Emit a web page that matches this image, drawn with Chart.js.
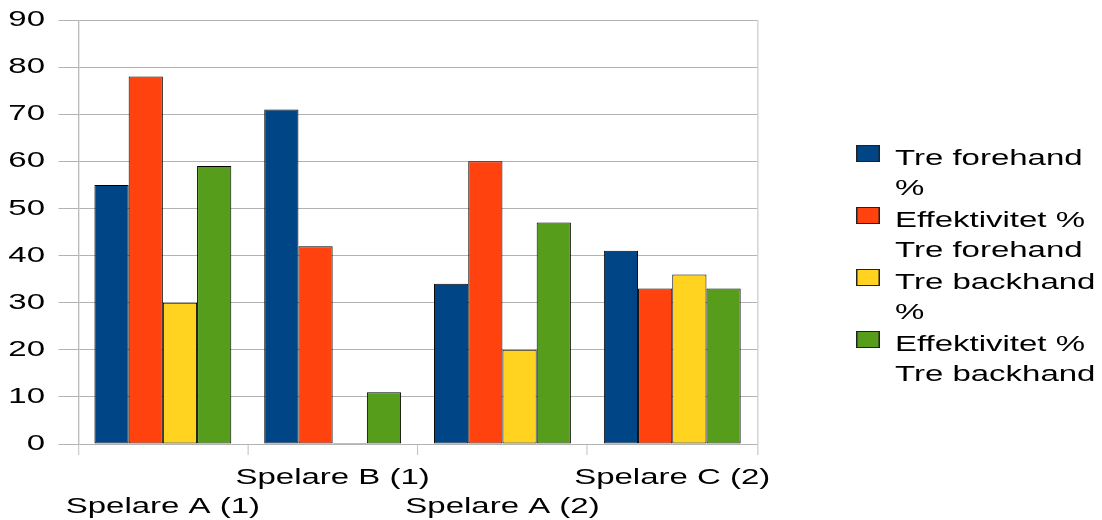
<!DOCTYPE html>
<html>
<head>
<meta charset="utf-8">
<script src="https://cdn.jsdelivr.net/npm/chart.js@4.4.0/dist/chart.umd.min.js"></script>
<style>
  body { margin: 0; background: #fff; }
  #wrap { position: relative; width: 1102px; height: 520px; overflow: hidden; }
  #grafico { display: block; }
  #legend {
    position: absolute; left: 856px; top: 143px;
    transform: scaleX(1.4993); transform-origin: 0 0;
    font-family: "Liberation Sans", Arial, sans-serif; font-size: 22px;
    line-height: 30px; color: #000;
  }
  .item { position: relative; padding-left: 26px; margin-bottom: 2px; width: 140px; }
  .box { position: absolute; left: 0; top: 2px; width: 16px; height: 17px; border: 1px solid #222; box-sizing: border-box; }
</style>
</head>
<body>
<div id="wrap">
  <canvas id="grafico" width="735" height="520" style="width:1102px;height:520px"></canvas>
  <div id="legend"></div>
</div>
<script>
// datos
const categorias = ['Spelare A (1)', 'Spelare B (1)', 'Spelare A (2)', 'Spelare C (2)'];
const series = ['Tre forehand %', 'Effektivitet % Tre forehand', 'Tre backhand %', 'Effektivitet % Tre backhand'];
const treForehand = [55, 71, 34, 41];
const efectForehand = [78, 42, 60, 33];
const treBackhand = [30, 0, 20, 36];
const efectBackhand = [59, 11, 47, 33];
const colores = ['#004586', '#ff420e', '#ffd320', '#579d1c'];
const yTicks = [0, 10, 20, 30, 40, 50, 60, 70, 80, 90];

const gris = '#b3b3b3';
const S = 1102 / 735; // el original esta estirado a lo ancho
const fina = 1 / S;   // lineas verticales de 1px una vez estiradas
const fuente = { family: 'Liberation Sans', size: 22, lineHeight: 1.3 };

// etiquetas escalonadas: las pares van abajo
const etiquetas = categorias.map((c, i) => i % 2 === 0 ? ['', c] : [c, '']);

const valores = [treForehand, efectForehand, treBackhand, efectBackhand];
const datasets = series.map((nombre, i) => ({
  label: nombre,
  data: valores[i],
  backgroundColor: colores[i],
  borderColor: '#000',
  borderWidth: { top: 1, bottom: 1, left: fina, right: fina },
  borderSkipped: false,
  minBarLength: 1
}));

// estiro horizontalmente todo el dibujo
const estirar = {
  id: 'estirar',
  beforeDraw(chart) {
    const c = chart.canvas;
    if (c.width !== 1102) c.width = 1102;
    chart.ctx.setTransform(S, 0, 0, 1, 0, 0);
  }
};

const ctx = document.getElementById('grafico').getContext('2d');
const grafico = new Chart(ctx, {
  type: 'bar',
  data: { labels: etiquetas, datasets: datasets },
  options: {
    responsive: false,
    animation: false,
    devicePixelRatio: 1,
    layout: { padding: { top: 20, left: 0, right: 230, bottom: 0 } },
    categoryPercentage: 0.806,
    barPercentage: 1,
    plugins: { legend: { display: false }, tooltip: { enabled: false } },
    scales: {
      x: {
        offset: true,
        afterFit: axis => { axis.height = 76; },
        grid: {
          offset: true,
          drawOnChartArea: true,
          color: c => (c.type !== 'tick' || c.index === 0) ? gris : 'transparent',
          tickColor: gris,
          tickLength: 11,
          lineWidth: fina
        },
        border: { display: false },
        ticks: { color: '#000', font: fuente, padding: 9, autoSkip: false, maxRotation: 0 }
      },
      y: {
        min: 0,
        max: 90,
        afterFit: axis => { axis.width = 52; axis.paddingTop = 0; axis.paddingBottom = 0; },
        afterBuildTicks: axis => { axis.ticks = yTicks.map(v => ({ value: v })); },
        grid: { color: gris, tickColor: gris, tickLength: 13, lineWidth: 1 },
        border: { color: gris, width: fina },
        ticks: { color: '#000', font: { family: 'Liberation Sans', size: 22, lineHeight: 1 }, padding: 9 }
      }
    }
  },
  plugins: [estirar]
});

// leyenda en HTML con texto partido en lineas
const leyenda = document.getElementById('legend');
grafico.data.datasets.forEach(ds => {
  const item = document.createElement('div');
  item.className = 'item';
  item.innerHTML = `<span class="box" style="background:${ds.backgroundColor}"></span>${ds.label}`;
  leyenda.appendChild(item);
});
</script>
</body>
</html>
